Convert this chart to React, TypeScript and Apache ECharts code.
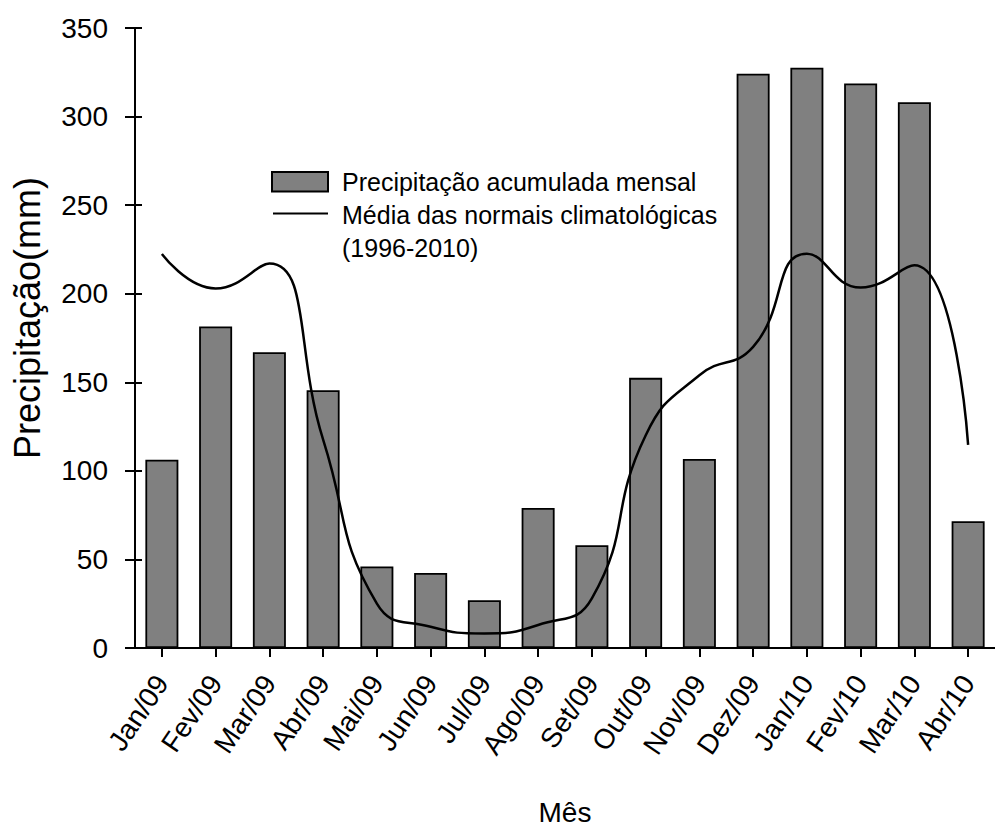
import React, { useEffect, useRef } from "react";
import * as echarts from "echarts";

// Months on the category axis
const months = [
  "Jan/09", "Fev/09", "Mar/09", "Abr/09", "Mai/09", "Jun/09", "Jul/09", "Ago/09",
  "Set/09", "Out/09", "Nov/09", "Dez/09", "Jan/10", "Fev/10", "Mar/10", "Abr/10",
];

// Monthly accumulated rainfall (mm)
const precipitation = [
  106.3, 181.5, 167, 145.5, 46, 42.3, 27, 79, 58, 152.5, 106.7, 324.2, 327.6, 318.7, 308.1, 71.6,
];

// Mean of the climatological normals 1996-2010 (mm)
const normals = [
  222.4, 203, 217, 117.7, 25, 12, 8.2, 13, 28, 120, 154, 170, 222.6, 203.5, 216, 114.7,
];

// Value axis range
const yMin = 0;
const yMax = 350;
const yStep = 50;

const barName = "Precipitação acumulada mensal";
const lineName = "Média das normais climatológicas";
const lineNameSub = "(1996-2010)";

const FONT = "'Liberation Sans', Arial, Helvetica, sans-serif";

export default function App() {
  const ref = useRef<HTMLDivElement>(null);

  useEffect(() => {
    if (!ref.current) return;
    const chart = echarts.init(ref.current, null, { renderer: "svg" });

    const legendText = {
      fill: "#000",
      fontSize: 25,
      fontFamily: FONT,
      verticalAlign: "middle" as const,
      align: "left" as const,
    };

    chart.setOption({
      animation: false,
      backgroundColor: "#fff",
      grid: { left: 135, top: 28, width: 870, height: 630, containLabel: false },
      xAxis: {
        type: "category",
        data: months,
        boundaryGap: true,
        axisLine: { show: true, lineStyle: { color: "#000", width: 2 } },
        axisTick: { show: true, alignWithLabel: true, length: 9, lineStyle: { color: "#000", width: 2 } },
        axisLabel: {
          interval: 0,
          rotate: 56,
          margin: 30,
          color: "#000",
          fontSize: 28,
          fontFamily: FONT,
        },
        splitLine: { show: false },
        name: "Mês",
        nameLocation: "middle",
        nameGap: 150,
        nameTextStyle: { color: "#000", fontSize: 28, fontFamily: FONT },
      },
      yAxis: [
        {
          type: "value",
          min: yMin,
          max: yMax,
          interval: yStep,
          position: "left",
          axisLine: { show: true, lineStyle: { color: "#000", width: 2 } },
          axisTick: { show: true, inside: false, length: 10, lineStyle: { color: "#000", width: 2 } },
          axisLabel: { margin: 27, color: "#000", fontSize: 28, fontFamily: FONT },
          splitLine: { show: false },
        },
        {
          // inner half of the crossing tick marks
          type: "value",
          min: yMin,
          max: yMax,
          interval: yStep,
          position: "left",
          axisLine: { show: false },
          axisTick: { show: true, inside: true, length: 7, lineStyle: { color: "#000", width: 2 } },
          axisLabel: { show: false },
          splitLine: { show: false },
        },
      ],
      graphic: [
        {
          type: "text",
          x: 27,
          y: 318,
          rotation: Math.PI / 2,
          style: {
            text: "Precipitação(mm)",
            fill: "#000",
            fontSize: 36,
            fontFamily: FONT,
            align: "center",
            verticalAlign: "middle",
          },
        },
        {
          type: "rect",
          shape: { x: 272, y: 172, width: 56, height: 19.5 },
          style: { fill: "#808080", stroke: "#000", lineWidth: 2 },
        },
        {
          type: "line",
          shape: { x1: 273, y1: 213.5, x2: 328, y2: 213.5 },
          style: { stroke: "#000", lineWidth: 2 },
        },
        { type: "text", x: 342, y: 181.5, style: { ...legendText, text: barName } },
        { type: "text", x: 342, y: 214.5, style: { ...legendText, text: lineName } },
        { type: "text", x: 342, y: 247.5, style: { ...legendText, text: lineNameSub } },
      ],
      series: [
        {
          name: barName,
          type: "bar",
          data: precipitation,
          barWidth: 33,
          itemStyle: { color: "#808080", borderColor: "#000", borderWidth: 1.8 },
          z: 2,
        },
        {
          name: lineName,
          type: "line",
          data: normals,
          smooth: true,
          symbol: "none",
          showSymbol: false,
          lineStyle: { color: "#000", width: 2.5 },
          z: 3,
        },
      ],
    });

    return () => chart.dispose();
  }, []);

  return (
    <div
      ref={ref}
      style={{ position: "absolute", left: 0, top: 0, width: 995, height: 831, background: "#fff" }}
    />
  );
}
